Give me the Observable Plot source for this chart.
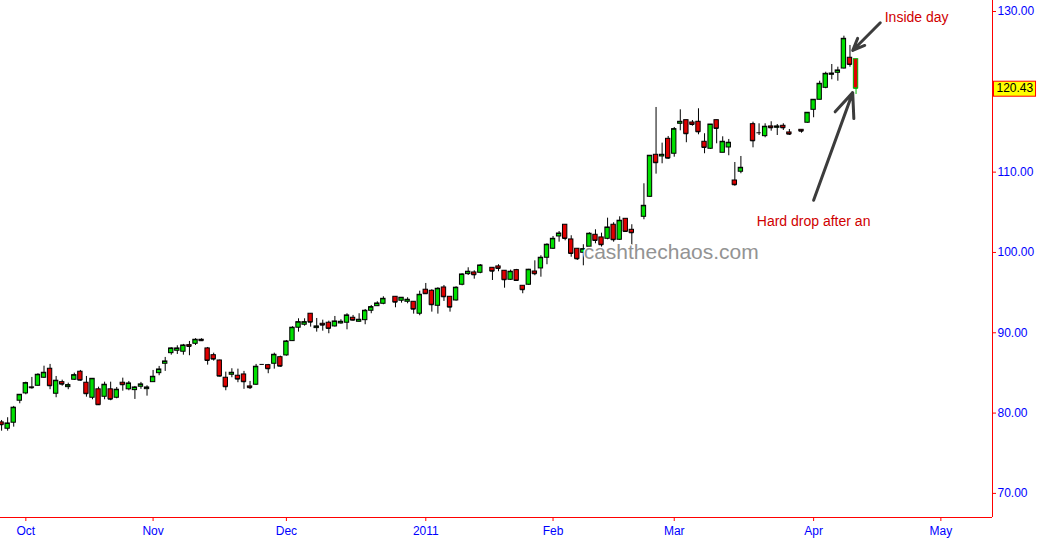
<!DOCTYPE html>
<html>
<head>
<meta charset="utf-8">
<script src="https://cdn.jsdelivr.net/npm/d3@7"></script>
<script src="https://cdn.jsdelivr.net/npm/@observablehq/plot@0.6"></script>
<style>
  html, body { margin: 0; padding: 0; background: #fff; }
  #chart svg { display: block; }
</style>
</head>
<body>
<div id="chart"></div>
<script>
// ---------- data (daily OHLC) ----------
const dates = [
  "2010-09-27","2010-09-28","2010-09-29","2010-09-30","2010-10-01",
  "2010-10-04","2010-10-05","2010-10-06","2010-10-07","2010-10-08",
  "2010-10-11","2010-10-12","2010-10-13","2010-10-14","2010-10-15",
  "2010-10-18","2010-10-19","2010-10-20","2010-10-21","2010-10-22",
  "2010-10-25","2010-10-26","2010-10-27","2010-10-28","2010-10-29",
  "2010-11-01","2010-11-02","2010-11-03","2010-11-04","2010-11-05",
  "2010-11-08","2010-11-09","2010-11-10","2010-11-11","2010-11-12",
  "2010-11-15","2010-11-16","2010-11-17","2010-11-18","2010-11-19",
  "2010-11-22","2010-11-23","2010-11-24","2010-11-25","2010-11-26",
  "2010-11-29","2010-11-30","2010-12-01","2010-12-02","2010-12-03",
  "2010-12-06","2010-12-07","2010-12-08","2010-12-09","2010-12-10",
  "2010-12-13","2010-12-14","2010-12-15","2010-12-16","2010-12-17",
  "2010-12-20","2010-12-21","2010-12-22","2010-12-23",
  "2010-12-27","2010-12-28","2010-12-29","2010-12-30","2010-12-31",
  "2011-01-03","2011-01-04","2011-01-05","2011-01-06","2011-01-07",
  "2011-01-10","2011-01-11","2011-01-12","2011-01-13","2011-01-14",
  "2011-01-18","2011-01-19","2011-01-20","2011-01-21",
  "2011-01-24","2011-01-25","2011-01-26","2011-01-27","2011-01-28",
  "2011-01-31","2011-02-01","2011-02-02","2011-02-03","2011-02-04",
  "2011-02-07","2011-02-08","2011-02-09","2011-02-10","2011-02-11",
  "2011-02-14","2011-02-15","2011-02-16","2011-02-17","2011-02-18",
  "2011-02-22","2011-02-23","2011-02-24","2011-02-25",
  "2011-02-28","2011-03-01","2011-03-02","2011-03-03","2011-03-04",
  "2011-03-07","2011-03-08","2011-03-09","2011-03-10","2011-03-11",
  "2011-03-14","2011-03-15","2011-03-16","2011-03-18",
  "2011-03-21","2011-03-22","2011-03-23","2011-03-24","2011-03-25",
  "2011-03-28","2011-03-30","2011-03-31","2011-04-01",
  "2011-04-04","2011-04-05","2011-04-06","2011-04-07","2011-04-08",
  "2011-04-11","2011-04-12"
];
const opens = [
  78.84,78.05,78.80,81.54,82.45, 83.20,83.40,84.40,85.52,82.41,
  83.85,83.23,84.15,85.15,83.78, 81.91,82.96,82.03,82.96,81.91,
  83.78,82.96,82.86,83.28,82.98, 83.85,84.97,86.14,87.46,87.76,
  87.64,88.46,88.63,89.13,88.05, 87.21,86.55,84.40,84.77,84.65,
  84.81,83.32,83.53,86.06,85.97, 86.14,86.96,87.18,88.96,90.63,
  91.00,92.37,90.58,91.12,91.25, 90.79,91.16,91.25,91.87,91.37,
  91.57,92.74,93.31,93.61, 94.48,93.99,93.86,93.86,92.37,
  95.36,95.23,93.36,95.64,94.48, 94.02,95.98,97.30,97.51,97.47,
  98.09,98.26,97.72,96.60, 97.80,95.85,95.98,97.63,98.01,
  99.34,100.46,101.99,103.45,101.62, 100.46,99.96,100.71,102.20,101.87,
  101.70,103.45,101.58,104.19,102.82, 104.44,106.93,112.16,111.95,
  114.15,112.29,116.02,116.47,116.18, 116.27,113.78,112.91,116.47,112.41,
  113.07,108.96,110.05,115.97, 114.90,114.48,115.69,115.52,115.77,
  114.94,115.27,116.15,117.76, 119.01,120.50,122.12,122.37,122.90,
  124.24,124.06
];
const highs = [
  79.08,79.42,80.83,82.28,83.85, 84.44,84.90,85.84,86.06,84.56,
  84.10,83.73,84.97,85.31,84.56, 84.27,83.23,83.85,83.85,83.19,
  84.35,83.94,83.32,83.82,83.40, 85.31,85.81,86.93,88.13,88.38,
  88.55,88.92,89.26,89.26,88.17, 87.46,86.60,85.10,85.52,85.47,
  85.19,83.94,86.06,86.06,86.06, 87.46,87.09,89.04,90.75,91.74,
  91.74,92.37,91.78,91.57,91.45, 92.03,91.62,92.37,92.16,92.37,
  92.90,93.40,93.86,94.48, 94.48,94.36,94.36,93.86,95.18,
  96.14,95.36,95.61,95.89,94.48, 95.73,97.35,98.09,97.72,98.50,
  98.09,98.47,97.72,97.80, 97.89,95.85,97.90,98.96,99.59,
  101.08,101.99,102.61,103.45,102.08, 100.46,100.96,102.45,102.82,102.40,
  104.27,103.70,104.44,104.19,103.45, 108.55,112.04,118.05,113.61,
  114.44,115.56,117.76,116.47,116.43, 117.89,114.78,115.93,116.47,114.40,
  114.07,111.20,111.95,116.22, 116.02,116.02,116.27,115.93,116.02,
  115.31,115.27,117.40,119.01, 121.32,122.44,123.40,123.07,126.93,
  125.77,124.06
];
const lows = [
  77.75,77.75,78.25,81.16,82.28, 82.98,83.35,84.31,82.91,81.91,
  83.35,82.91,84.06,83.97,81.98, 81.66,80.95,81.66,81.54,81.78,
  82.73,82.78,81.70,82.96,82.11, 83.85,84.65,85.19,87.21,87.30,
  87.21,87.14,88.42,88.92,85.97, 86.47,84.50,82.78,84.40,83.78,
  82.96,82.94,83.44,86.06,84.90, 85.47,85.72,87.09,88.92,90.08,
  90.82,90.70,90.08,90.20,89.88, 90.70,91.07,90.37,91.45,91.32,
  91.00,92.37,93.28,93.49, 93.11,93.69,93.61,92.32,92.12,
  94.86,92.57,92.32,93.90,92.57, 93.94,95.85,97.13,96.67,97.35,
  96.51,97.60,95.55,96.51, 96.43,94.86,95.90,97.10,96.92,
  98.47,100.37,101.28,101.45,99.41, 99.00,98.34,100.62,101.08,100.66,
  101.58,101.28,101.50,102.53,100.87, 104.07,106.84,109.75,111.04,
  111.58,111.86,115.15,113.66,115.72, 114.65,112.29,112.82,113.53,112.41,
  112.04,108.25,109.80,113.03, 114.56,114.28,115.10,114.56,115.19,
  114.56,114.85,116.10,116.77, 119.00,120.38,121.50,121.32,122.85,
  123.07,119.67
];
const closes = [
  78.55,78.71,80.67,82.28,83.73, 83.15,84.77,85.02,83.40,84.03,
  83.60,83.48,84.72,84.10,82.41, 84.27,81.04,83.53,81.73,82.91,
  83.53,83.69,83.19,83.57,83.19, 84.52,85.43,86.43,88.05,88.05,
  88.42,88.30,89.13,89.01,86.55, 86.72,84.60,83.28,85.02,84.23,
  83.90,83.16,85.77,86.06,85.52, 87.26,85.84,88.92,90.63,91.32,
  91.32,91.32,90.79,90.95,90.54, 91.41,91.37,92.16,91.57,91.62,
  92.74,93.19,93.65,94.23, 93.81,94.36,94.11,92.94,94.73,
  94.86,93.49,95.48,94.48,93.19, 95.61,97.26,97.60,97.22,98.38,
  97.67,98.01,96.60,97.60, 96.51,95.36,97.85,97.35,99.34,
  100.96,101.70,102.36,101.74,99.87, 99.21,100.41,102.33,101.49,100.96,
  103.11,101.58,103.95,102.61,102.45, 105.81,112.04,111.17,112.16,
  111.74,115.35,116.27,114.78,115.93, 115.02,113.07,115.93,115.44,113.78,
  113.66,108.43,110.54,113.90, 114.90,115.65,115.52,115.69,115.52,
  114.73,115.10,117.39,119.01, 121.00,122.24,122.28,122.66,126.60,
  123.40,120.43
];

// axis ticks
const xTickDates = ["2010-10-01","2010-11-01","2010-12-01","2011-01-03","2011-02-01","2011-03-01","2011-04-01","2011-05-02"];
const xTickLabels = ["Oct","Nov","Dec","2011","Feb","Mar","Apr","May"];
const yTicks = [70, 80, 90, 100, 110, 120, 130];
const axisEndDate = "2011-05-12";
const lastPrice = closes[closes.length - 1];

// annotations
const notes = [
  {date: "2011-04-26", price: 129.25, text: "Inside day"},
  {date: "2011-04-01", price: 103.86, text: "Hard drop after an"}
];
const arrows = [
  {fromDate: "2011-04-18", fromPrice: 128.6, toDate: "2011-04-11", toPrice: 125.15},
  {fromDate: "2011-04-01", fromPrice: 106.5, toDate: "2011-04-11", toPrice: 119.9}
];
const watermark = [{date: "2011-02-28", price: 100.0, text: "cashthechaos.com"}];

// ---------- helpers ----------
const base = new Date(Date.UTC(2010, 9, 1));
const isWeekday = d => d.getUTCDay() % 6 !== 0;
function wd(s) { // weekday index relative to 2010-10-01 (chart skips weekends)
  const d = new Date(s + "T00:00:00Z");
  if (d >= base) return d3.utcDays(base, d).filter(isWeekday).length;
  return -d3.utcDays(d, base).filter(isWeekday).length;
}

const candles = dates.map((d, i) => ({
  x: wd(d), o: opens[i], h: highs[i], l: lows[i], c: closes[i],
  last: i === dates.length - 1
}));
const xTicks = xTickDates.map(wd);
const labelOf = new Map(xTicks.map((t, i) => [t, xTickLabels[i]]));

const xDomain = [wd(dates[0]) - 0.18, wd(axisEndDate) + 0.52];
const yDomain = [67.0, 131.37];

const GREEN = "#00e000", RED = "#e00000", LASTSTROKE = "#00b400";
const bw = 0.36;
const strokeOf = d => d.last ? LASTSTROKE : "#000000";
// the last-price box covers the tick label next to it
const yLabel = d => Math.abs(d - lastPrice) < 1.5 ? "" : d.toFixed(2);

const plot = Plot.plot({
  width: 1049,
  height: 545,
  marginTop: 0,
  marginRight: 57,
  marginBottom: 28,
  marginLeft: 0,
  x: {type: "linear", domain: xDomain},
  y: {type: "linear", domain: yDomain},
  style: {fontFamily: "'Liberation Sans', Arial, sans-serif", fontSize: "12px", background: "#ffffff", overflow: "visible"},
  marks: [
    Plot.axisX(xTicks, {anchor: "bottom", label: null, tickSize: 4, tickPadding: 5, tickFormat: d => labelOf.get(d),
      fill: "#0000ff", stroke: "#ff0000", fontSize: 12}),
    Plot.axisY(yTicks, {anchor: "right", label: null, tickSize: 3, tickPadding: 2, tickFormat: yLabel,
      fill: "#0000ff", stroke: "#ff0000", fontSize: 12}),
    Plot.ruleY([yDomain[0]], {stroke: "#ff0000"}),
    Plot.ruleX([xDomain[1]], {stroke: "#ff0000"}),
    // wicks
    Plot.ruleX(candles, {x: "x", y1: "l", y2: "h", stroke: strokeOf}),
    // bodies
    Plot.rect(candles, {x1: d => d.x - bw, x2: d => d.x + bw, y1: "o", y2: "c",
      fill: d => d.c >= d.o ? GREEN : RED, stroke: strokeOf}),
    // close line (shows doji bars)
    Plot.ruleY(candles, {x1: d => d.x - bw, x2: d => d.x + bw, y: "c", stroke: strokeOf}),
    // watermark
    Plot.text(watermark, {x: d => wd(d.date) + 0.5, y: "price", text: "text", fill: "#939393",
      stroke: "#ffffff", strokeWidth: 2.5, paintOrder: "stroke", fontSize: 21}),
    // annotations
    Plot.text(notes, {x: d => wd(d.date), y: "price", text: "text", fill: "#d00000", fontSize: 14}),
    Plot.arrow(arrows, {x1: d => wd(d.fromDate), y1: "fromPrice", x2: d => wd(d.toDate) + 0.45, y2: "toPrice",
      stroke: "#3c3c3c", strokeWidth: 3, headLength: 13, headAngle: 45}),
    // last price label
    Plot.text([lastPrice], {y: d => d, frameAnchor: "right", textAnchor: "start", dx: 4,
      text: d => d.toFixed(2), fill: "#000000", fontSize: 12})
  ]
});

document.getElementById("chart").appendChild(plot);

// yellow box behind the last-price label
const ns = "http://www.w3.org/2000/svg";
const label = Array.from(plot.querySelectorAll("text")).find(t => t.textContent === lastPrice.toFixed(2));
if (label) {
  const bb = label.getBBox();
  const r = document.createElementNS(ns, "rect");
  r.setAttribute("x", bb.x - 3);
  r.setAttribute("y", bb.y);
  r.setAttribute("width", bb.width + 5);
  r.setAttribute("height", bb.height + 1);
  r.setAttribute("fill", "#ffff00");
  r.setAttribute("stroke", "#ff0000");
  const tr = label.getAttribute("transform");
  if (tr) r.setAttribute("transform", tr);
  label.parentNode.insertBefore(r, label);
}
</script>
</body>
</html>
